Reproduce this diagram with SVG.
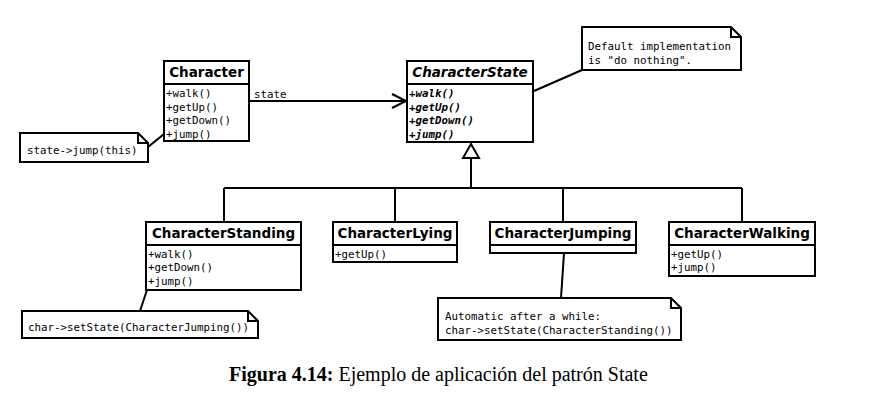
<svg xmlns="http://www.w3.org/2000/svg" width="882" height="403" viewBox="0 0 882 403">
<style>
.box{fill:#fff;stroke:#000;stroke-width:2}
.ln{fill:none;stroke:#000;stroke-width:2}
.t{font-family:"DejaVu Sans",sans-serif;font-weight:bold;font-size:13.5px}
.ti{font-family:"DejaVu Sans",sans-serif;font-weight:bold;font-style:oblique;font-size:13.5px}
.m{font-family:"DejaVu Sans Mono",monospace;font-size:10.8px}
.mi{font-family:"DejaVu Sans Mono",monospace;font-size:10.8px;font-weight:bold;font-style:oblique}
.cap{font-family:"Liberation Serif",serif;font-size:20px}
</style>
<rect width="882" height="403" fill="#fff"/>
<g id="connectors">
<path class="ln" d="M249,101 H406"/>
<path class="ln" d="M392,94 L406,101 L392,108"/>
<text class="m" x="254" y="98">state</text>
<path class="ln" d="M471,158 V188 M224,188 H742 M224,188 V222 M395,188 V222 M563,188 V222 M742,188 V222"/>
<path class="box" d="M471,144 L479,158 H463 Z"/>
<path class="ln" d="M148,147 L164,134"/>
<path class="ln" d="M534,91 L582,70"/>
<path class="ln" d="M147,290 L140,311"/>
<path class="ln" d="M564,253 L561,298"/>
</g>
<g id="Character">
<rect class="box" x="164" y="61" width="85" height="80"/>
<line class="ln" x1="164" y1="84" x2="249" y2="84"/>
<text class="t" x="206.5" y="77" text-anchor="middle">Character</text>
<text class="m" x="166" y="97">+walk()</text>
<text class="m" x="166" y="110.5">+getUp()</text>
<text class="m" x="166" y="124">+getDown()</text>
<text class="m" x="166" y="137.5">+jump()</text>
</g>
<g id="CharacterState">
<rect class="box" x="407" y="61" width="126" height="81"/>
<line class="ln" x1="407" y1="84" x2="533" y2="84"/>
<text class="ti" x="470" y="77" text-anchor="middle">CharacterState</text>
<text class="mi" x="409" y="97">+walk()</text>
<text class="mi" x="409" y="110.5">+getUp()</text>
<text class="mi" x="409" y="124">+getDown()</text>
<text class="mi" x="409" y="137.5">+jump()</text>
</g>
<g id="noteCharacter">
<path class="box" d="M20,133 H138 L148,143 V162 H20 Z"/>
<path class="ln" d="M138,133 V143 H148"/>
<text class="m" x="27" y="154">state-&gt;jump(this)</text>
</g>
<g id="noteDefault">
<path class="box" d="M582,27 H731 L741,37 V70 H582 Z"/>
<path class="ln" d="M731,27 V37 H741"/>
<text class="m" x="588" y="50">Default implementation</text>
<text class="m" x="588" y="64">is "do nothing".</text>
</g>
<g id="CharacterStanding">
<rect class="box" x="146" y="222" width="155" height="68"/>
<line class="ln" x1="146" y1="245" x2="301" y2="245"/>
<text class="t" x="223.5" y="238" text-anchor="middle">CharacterStanding</text>
<text class="m" x="148" y="257.5">+walk()</text>
<text class="m" x="148" y="271">+getDown()</text>
<text class="m" x="148" y="284.5">+jump()</text>
</g>
<g id="CharacterLying">
<rect class="box" x="333" y="222" width="124" height="40"/>
<line class="ln" x1="333" y1="245" x2="457" y2="245"/>
<text class="t" x="395" y="238" text-anchor="middle">CharacterLying</text>
<text class="m" x="335" y="257.5">+getUp()</text>
</g>
<g id="CharacterJumping">
<rect class="box" x="490" y="222" width="146" height="31"/>
<line class="ln" x1="490" y1="245" x2="636" y2="245"/>
<text class="t" x="563" y="238" text-anchor="middle">CharacterJumping</text>
</g>
<g id="CharacterWalking">
<rect class="box" x="669" y="222" width="146" height="54"/>
<line class="ln" x1="669" y1="245" x2="815" y2="245"/>
<text class="t" x="742" y="238" text-anchor="middle">CharacterWalking</text>
<text class="m" x="671" y="257.5">+getUp()</text>
<text class="m" x="671" y="271">+jump()</text>
</g>
<g id="noteStanding">
<path class="box" d="M22,311 H248 L258,321 V338 H22 Z"/>
<path class="ln" d="M248,311 V321 H258"/>
<text class="m" x="28" y="331">char-&gt;setState(CharacterJumping())</text>
</g>
<g id="noteJumping">
<path class="box" d="M438,298 H671 L681,308 V340 H438 Z"/>
<path class="ln" d="M671,298 V308 H681"/>
<text class="m" x="445" y="320">Automatic after a while:</text>
<text class="m" x="445" y="334">char-&gt;setState(CharacterStanding())</text>
</g>
<text class="cap" x="229" y="381"><tspan font-weight="bold">Figura 4.14:</tspan> Ejemplo de aplicación del patrón State</text>
</svg>
